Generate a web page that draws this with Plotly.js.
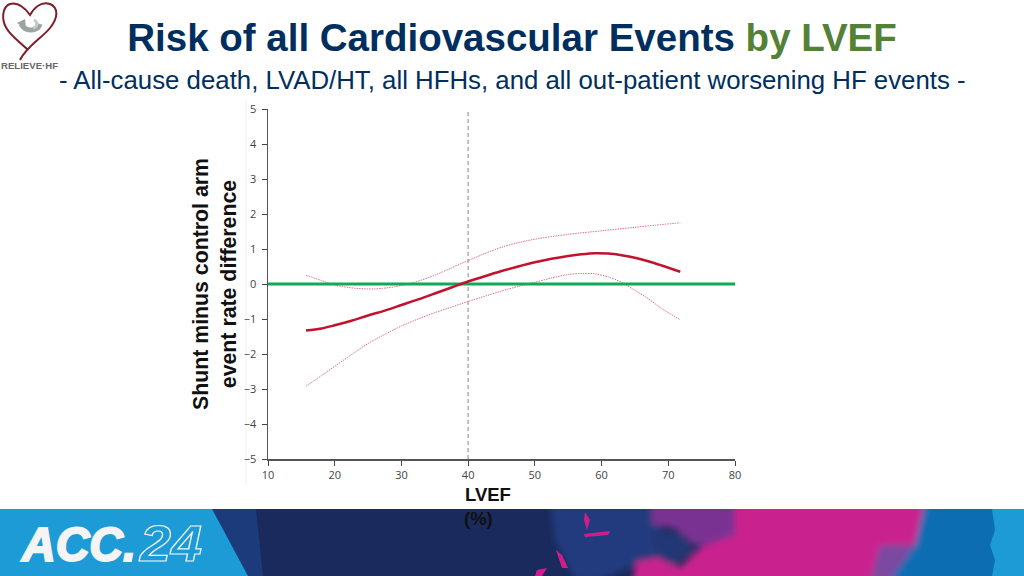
<!DOCTYPE html>
<html><head><meta charset="utf-8">
<script src="https://cdn.plot.ly/plotly-3.0.1.min.js"></script>
<style>
html,body{margin:0;padding:0;background:#fff;width:1024px;height:576px;overflow:hidden}
#deco{position:absolute;left:0;top:0;width:1024px;height:576px}
#chart{position:absolute;left:0;top:0;width:1024px;height:576px}
</style></head><body>
<svg id="deco" width="1024" height="576" viewBox="0 0 1024 576">
<defs><filter id="b" x="-20%" y="-20%" width="140%" height="140%"><feGaussianBlur stdDeviation="3"/></filter>
<filter id="s"><feGaussianBlur stdDeviation="0.6"/></filter>
<clipPath id="band"><rect x="0" y="509" width="1024" height="67"/></clipPath></defs>
<line x1="246" y1="100" x2="246" y2="485" stroke="#f0f0f0" stroke-width="1"/>
<g clip-path="url(#band)">
<rect x="0" y="509" width="1024" height="67" fill="#1a2a5c"/>
<g filter="url(#b)">
<path d="M550 505H660V530L694 550L670 566L640 562L600 580H575L555 540Z" fill="#223a7e"/>
<path d="M652 500H750V550L694 545L675 528L652 525Z" fill="#7a3192"/>
<path d="M735 500H935L915 545L885 585H632L636 562L665 556L680 568L700 548L735 535Z" fill="#c9208e"/>
<path d="M650 531L680 533L694 550L672 565L655 556Z" fill="#233876"/>
<path d="M925 500H1005V585H885L915 545Z" fill="#0a6db2"/>
<path d="M880 545L915 545L890 580H870Z" fill="#7a4aa0"/>
</g>
<path d="M992 509H1024V576H992L995 560L990 545L995 530Z" fill="#1c9bd6" filter="url(#s)"/>
<path d="M210 509H256L263 576H245Z" fill="#1b3a7a" filter="url(#s)"/>
<path d="M0 509H212L248 576H0Z" fill="#1c9bd6"/>
<path d="M585 512L590 520L587 530L584 520Z M584 534L610 531L608 535L585 537Z M556 550L562 555L568 568L562 568ZM537 570L547 568L542 576L535 576Z" fill="#d01f8b" filter="url(#s)"/>
</g>
<text x="22" y="561" font-family="Liberation Sans" font-weight="700" font-style="italic" font-size="48" fill="#f4f4f4" stroke="#f4f4f4" stroke-width="2" textLength="114" lengthAdjust="spacingAndGlyphs">ACC.</text>
<text x="140" y="561" font-family="Liberation Sans" font-weight="700" font-style="italic" font-size="50" fill="none" stroke="#f4f4f4" stroke-width="1.2" textLength="62" lengthAdjust="spacingAndGlyphs">24</text>
<g>
<path d="M20 60C27 46 42 38 50 28C58 18 59 8 50 4C41 1 34 8 30 15C25 8 18 2 10 4C2 7 1 20 7 29C11 36 20 42 27 49" fill="none" stroke="#7e1d2c" stroke-width="2"/>
<path d="M21 24C26 33 38 31 40 24" fill="none" stroke="#9aa5a3" stroke-width="5"/>
<path d="M34 20C38 22 38 27 33 28" fill="none" stroke="#c3cbc9" stroke-width="3"/>
<path d="M17 23L25 19L26 29Z" fill="#9aa5a3"/>
<text x="1" y="69" font-family="Liberation Sans" font-weight="700" font-size="9.5" fill="#666" textLength="57" lengthAdjust="spacingAndGlyphs">RELIEVE·HF</text>
</g>
</svg>
<div id="chart"></div>
<script>
const centerX = [15.7,18,20,22.5,25,27.5,30,32.5,35,37.5,40,42.5,45,47.5,50,52.5,55,57,59,61,63,65,67,69,71.8];
const centerY = [-1.33,-1.27,-1.18,-1.05,-0.9,-0.76,-0.6,-0.44,-0.27,-0.1,0.07,0.22,0.37,0.5,0.62,0.72,0.8,0.85,0.88,0.87,0.82,0.75,0.65,0.53,0.35];
const upperX = [15.7,18,20,23,26,29,32,35,37.5,40,42.5,45,47.5,50,55,60,65,68,71.8];
const upperY = [0.25,0.1,-0.03,-0.12,-0.14,-0.08,0.05,0.25,0.46,0.67,0.87,1.05,1.18,1.28,1.42,1.52,1.62,1.68,1.75];
const lowerX = [15.7,18,20,22.5,25,27.5,30,32.5,35,37.5,40,42.5,45,47.5,50,52.5,55,57,59,61,63,65,67,69,71.8];
const lowerY = [-2.92,-2.62,-2.35,-2.02,-1.7,-1.44,-1.2,-1.0,-0.82,-0.66,-0.5,-0.35,-0.2,-0.07,0.05,0.17,0.27,0.3,0.29,0.2,0.05,-0.18,-0.42,-0.7,-1.02];
const zeroX = [10,80];
const zeroY = [0,0];
const refX = [40,40];
const refY = [-5,5];
const xTicks = [10,20,30,40,50,60,70,80];
const yTicks = [-5,-4,-3,-2,-1,0,1,2,3,4,5];
const tickFont = {family:'Open Sans, sans-serif',size:11,color:'#444'};
const sans = 'Liberation Sans, Arial, sans-serif';
const traces = [
 {x:refX,y:refY,mode:'lines',line:{color:'#b0b0b0',width:1.5,dash:'4px,3px'}},
 {x:upperX,y:upperY,mode:'lines',line:{color:'#e0728a',width:1,dash:'1.5px,1px',shape:'spline',smoothing:0.8}},
 {x:lowerX,y:lowerY,mode:'lines',line:{color:'#e0728a',width:1,dash:'1.5px,1px',shape:'spline',smoothing:0.8}},
 {x:zeroX,y:zeroY,mode:'lines',line:{color:'#0fa958',width:3}},
 {x:centerX,y:centerY,mode:'lines',line:{color:'#c1122f',width:2.5,shape:'spline'}}
];
const layout = {
 width:1024,height:576,showlegend:false,
 paper_bgcolor:'rgba(0,0,0,0)',plot_bgcolor:'rgba(0,0,0,0)',
 margin:{l:268,r:289,t:109,b:117},
 title:{text:'Risk of all Cardiovascular Events <span style="color:#538135">by LVEF</span>',
  font:{family:sans,size:38.5,color:'#002f5f',weight:700},
  x:0.5,xanchor:'center',y:0.934,yanchor:'middle'},
 xaxis:{range:[10,80],tickvals:xTicks,ticks:'outside',ticklen:5,tickwidth:1,tickcolor:'#444',
  showgrid:false,zeroline:false,showline:true,linecolor:'#555',linewidth:1.5,tickfont:tickFont},
 yaxis:{range:[-5,5],tickvals:yTicks,ticks:'outside',ticklen:5,tickwidth:1,tickcolor:'#444',ticklabelstandoff:3,
  showgrid:false,zeroline:false,showline:true,linecolor:'#555',linewidth:1.5,tickfont:tickFont,
  title:{text:'Shunt minus control arm<br>event rate difference',standoff:1,
   font:{family:sans,size:21.3,color:'#111',weight:700}}},
 annotations:[
  {xref:'paper',yref:'paper',x:(512-268)/467,y:(459-80)/350,yanchor:'middle',xanchor:'center',showarrow:false,
   text:'- All-cause death, LVAD/HT, all HFHs, and all out-patient worsening HF events -',
   font:{family:sans,size:25.8,color:'#002f5f'}},
  {xref:'paper',yref:'paper',x:(488-268)/467,y:(459-495)/350,yanchor:'middle',xanchor:'center',showarrow:false,
   text:'LVEF',font:{family:sans,size:18.5,color:'#111',weight:700}},
  {xref:'paper',yref:'paper',x:(478-268)/467,y:(459-518)/350,yanchor:'middle',xanchor:'center',showarrow:false,
   text:'(%)',font:{family:sans,size:18.5,color:'#111',weight:700}}
 ]
};
Plotly.newPlot('chart',traces,layout,{displayModeBar:false,staticPlot:true});
</script>
</body></html>
